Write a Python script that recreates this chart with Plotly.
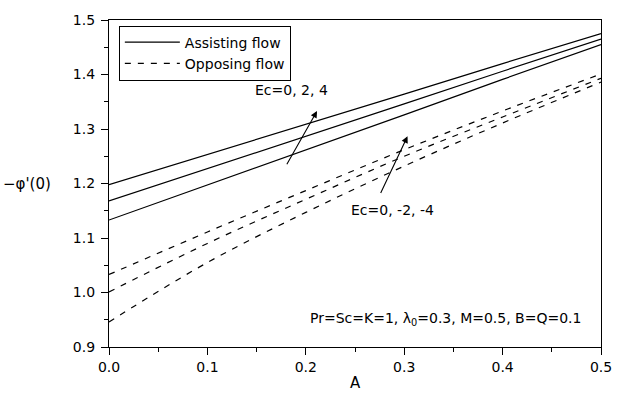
import plotly.graph_objects as go

A = [0.0, 0.1, 0.2, 0.3, 0.4, 0.5]

# Assisting flow (solid), Ec = 0, 2, 4
assist_ec4 = [1.198, 1.253, 1.309, 1.364, 1.420, 1.475]
assist_ec2 = [1.168, 1.227, 1.287, 1.346, 1.406, 1.465]
assist_ec0 = [1.133, 1.197, 1.262, 1.326, 1.391, 1.455]

# Opposing flow (dashed), Ec = 0, -2, -4
oppose_ec0 = [1.033, 1.111, 1.187, 1.262, 1.333, 1.401]
oppose_m2 = [1.001, 1.090, 1.171, 1.250, 1.322, 1.393]
oppose_m4 = [0.946, 1.055, 1.147, 1.232, 1.311, 1.386]

x_ticks = [0.0, 0.1, 0.2, 0.3, 0.4, 0.5]
y_ticks = [0.9, 1.0, 1.1, 1.2, 1.3, 1.4, 1.5]

FONT = "DejaVu Sans"

fig = go.Figure()
solid = [assist_ec4, assist_ec2, assist_ec0]
dashed = [oppose_ec0, oppose_m2, oppose_m4]
for i, ys in enumerate(solid):
    fig.add_trace(go.Scatter(x=A, y=ys, mode="lines",
                             line=dict(color="black", width=1.2),
                             name="Assisting flow", showlegend=(i == 0)))
for i, ys in enumerate(dashed):
    fig.add_trace(go.Scatter(x=A, y=ys, mode="lines",
                             line=dict(color="black", width=1.2, dash="6px,7px",
                                       shape="spline", smoothing=1.0),
                             name="Opposing flow", showlegend=(i == 0)))

axis_common = dict(showgrid=False, zeroline=False, showline=True, linecolor="black",
                   linewidth=1.3, mirror=True, ticks="outside", ticklen=7, tickwidth=1.3,
                   tickcolor="black",
                   minor=dict(dtick=0.05, ticks="outside", ticklen=4, tickcolor="black",
                              tickwidth=1),
                   tickfont=dict(family=FONT, size=14, color="black"))

fig.update_layout(
    width=632, height=394,
    margin=dict(l=109, r=31, t=15, b=47),
    paper_bgcolor="white", plot_bgcolor="white",
    font=dict(family=FONT, size=14, color="black"),
    showlegend=True,
    legend=dict(x=0.02, y=0.983, xanchor="left", yanchor="top",
                bordercolor="black", borderwidth=1, bgcolor="white",
                font=dict(family=FONT, size=14), itemwidth=55,
                tracegroupgap=0, traceorder="normal"),
    xaxis=dict(range=[0, 0.5], tickvals=x_ticks,
               ticktext=[f"{v:.1f}" for v in x_ticks], **axis_common),
    yaxis=dict(range=[0.9, 1.5], tickvals=y_ticks,
               ticktext=[f"{v:.1f}" for v in y_ticks], ticklabelstandoff=3,
               **axis_common),
)

# axis titles
fig.add_annotation(text="A", xref="paper", yref="paper", x=0.5, y=0, yshift=-36,
                   xanchor="center", yanchor="middle", showarrow=False,
                   font=dict(family=FONT, size=15))
fig.add_annotation(text="\u2212\u03c6'(0)", xref="paper", yref="y", x=0, y=1.2, xshift=-56,
                   xanchor="right", yanchor="middle", showarrow=False,
                   font=dict(family=FONT, size=15))

# Ec labels and arrows
fig.add_annotation(text="Ec=0, 2, 4", xref="x", yref="y", x=0.185, y=1.372,
                   xanchor="center", yanchor="middle", showarrow=False,
                   font=dict(family=FONT, size=14))
fig.add_annotation(x=0.2114, y=1.333, ax=0.1799, ay=1.2325, xref="x", yref="y",
                   axref="x", ayref="y", showarrow=True, arrowhead=2, arrowsize=1.2,
                   arrowwidth=1.1, arrowcolor="black", text="")
fig.add_annotation(text="Ec=0, -2, -4", xref="x", yref="y", x=0.244, y=1.151,
                   xanchor="left", yanchor="middle", showarrow=False,
                   font=dict(family=FONT, size=14))
fig.add_annotation(x=0.3034, y=1.2867, ax=0.2754, ay=1.180, xref="x", yref="y",
                   axref="x", ayref="y", showarrow=True, arrowhead=2, arrowsize=1.2,
                   arrowwidth=1.1, arrowcolor="black", text="")

# parameters text
fig.add_annotation(text="Pr=Sc=K=1, \u03bb<sub>0</sub>=0.3, M=0.5, B=Q=0.1",
                   xref="x", yref="y", x=0.482, y=0.952, xanchor="right", yanchor="middle",
                   showarrow=False, font=dict(family=FONT, size=14))

fig.write_html("out.html")
